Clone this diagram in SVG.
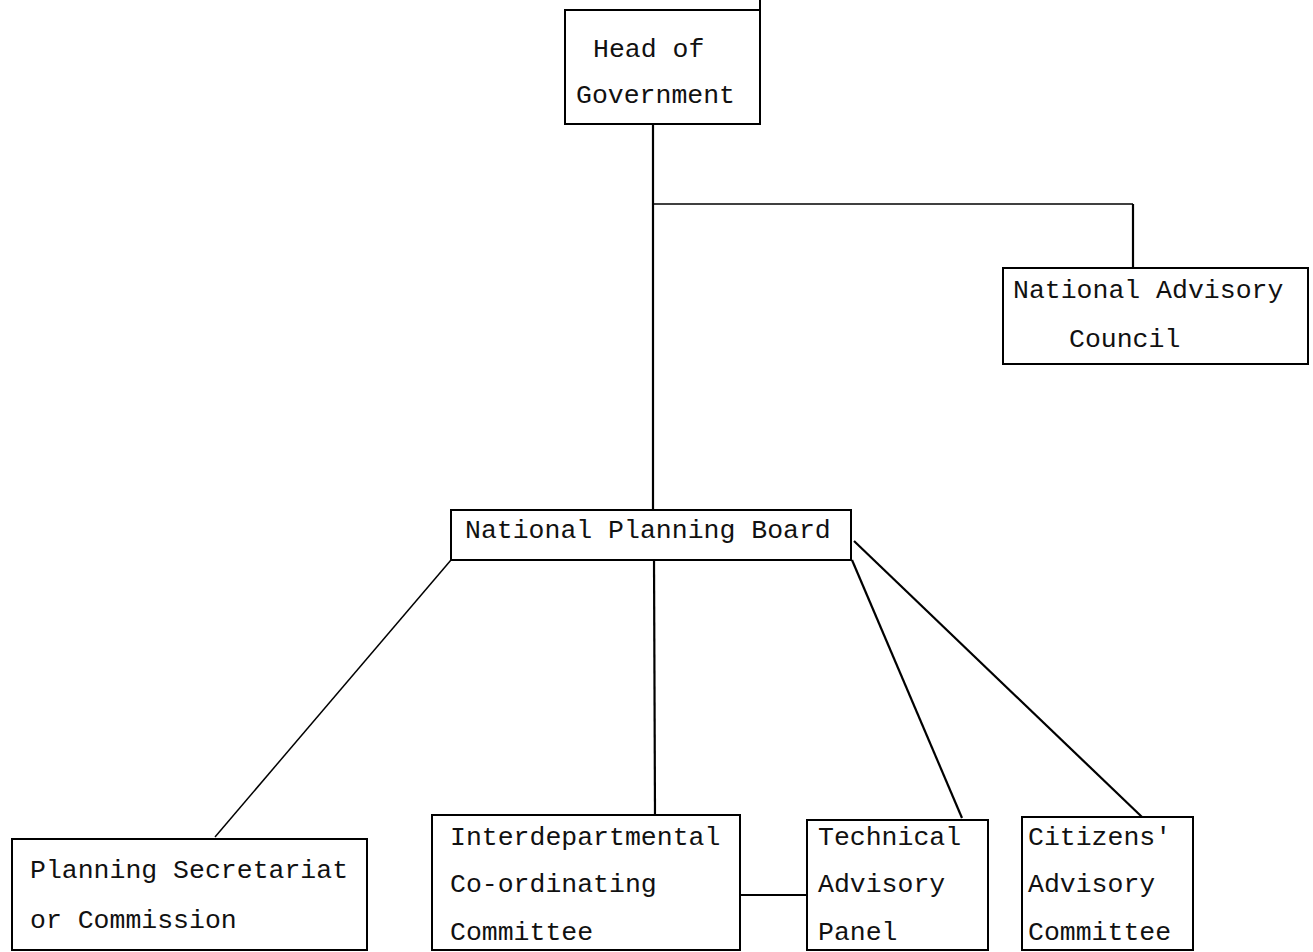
<svg xmlns="http://www.w3.org/2000/svg" width="1313" height="952" viewBox="0 0 1313 952">
<style>
.box{fill:none;stroke:#000;stroke-width:2}
.t{font-family:"Liberation Mono","Courier New",monospace;font-size:26.5px;fill:#111}
.c{fill:none;stroke:#000;stroke-width:2.2}
.thin{fill:none;stroke:#000;stroke-width:1.5}
</style>
<rect width="1313" height="952" fill="#fff"/>
<g id="connectors">
<line class="c" x1="653" y1="124" x2="653" y2="510"/>
<polyline class="thin" points="653,204 1133,204"/>
<line class="c" x1="1133" y1="204" x2="1133" y2="268"/>
<line class="thin" x1="451" y1="560" x2="215" y2="837"/>
<line class="c" x1="654" y1="560" x2="655" y2="815"/>
<line class="c" x1="852" y1="560" x2="962" y2="818"/>
<line class="c" x1="854" y1="541" x2="1142" y2="817"/>
<line class="c" x1="740" y1="895" x2="807" y2="895"/>
</g>
<g id="head">
<rect class="box" x="565" y="10" width="195" height="114"/>
<line class="box" x1="760" y1="0" x2="760" y2="10"/>
<text class="t" x="593" y="57">Head of</text>
<text class="t" x="576" y="103">Government</text>
</g>
<g id="nac">
<rect class="box" x="1003" y="268" width="305" height="96"/>
<text class="t" x="1013" y="298">National Advisory</text>
<text class="t" x="1069" y="347">Council</text>
</g>
<g id="npb">
<rect class="box" x="451" y="510" width="400" height="50"/>
<text class="t" x="465" y="538">National Planning Board</text>
</g>
<g id="ps">
<rect class="box" x="12" y="839" width="355" height="111"/>
<text class="t" x="30" y="878">Planning Secretariat</text>
<text class="t" x="30" y="928">or Commission</text>
</g>
<g id="icc">
<rect class="box" x="432" y="815" width="308" height="135"/>
<text class="t" x="450" y="845">Interdepartmental</text>
<text class="t" x="450" y="892">Co-ordinating</text>
<text class="t" x="450" y="940">Committee</text>
</g>
<g id="tap">
<rect class="box" x="807" y="820" width="181" height="130"/>
<text class="t" x="818" y="845">Technical</text>
<text class="t" x="818" y="892">Advisory</text>
<text class="t" x="818" y="940">Panel</text>
</g>
<g id="cac">
<rect class="box" x="1022" y="817" width="171" height="133"/>
<text class="t" x="1028" y="845">Citizens'</text>
<text class="t" x="1028" y="892">Advisory</text>
<text class="t" x="1028" y="940">Committee</text>
</g>
</svg>
